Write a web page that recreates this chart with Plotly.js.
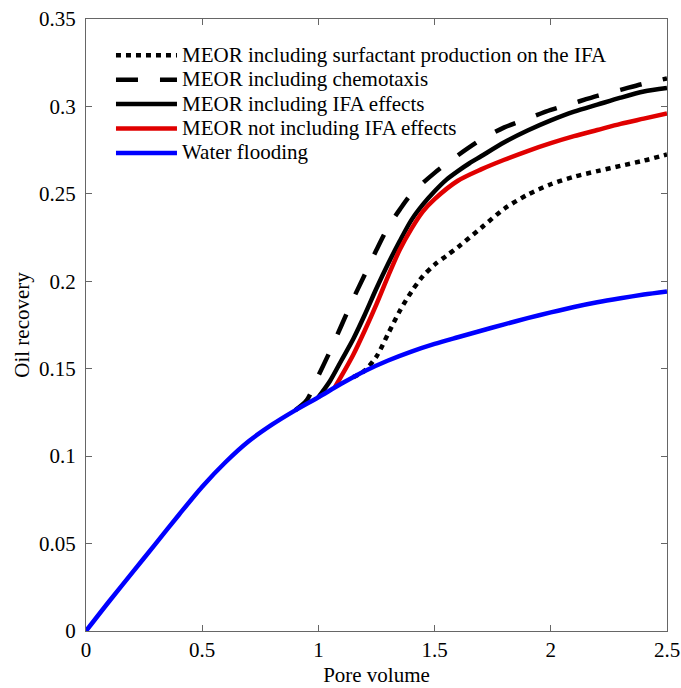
<!DOCTYPE html>
<html>
<head>
<meta charset="utf-8">
<script src="https://cdn.plot.ly/plotly-3.0.1.min.js"></script>
<style>html,body{margin:0;padding:0;background:#fff;}#chart{width:681px;height:688px;}</style>
</head>
<body>
<div id="chart"></div>
<script>
// Water flooding
const waterX = [0, 0.1, 0.2, 0.3, 0.4, 0.5, 0.6, 0.7, 0.8, 0.9, 1.0, 1.1, 1.2, 1.3, 1.4, 1.5, 1.6, 1.7, 1.8, 1.9, 2.0, 2.1, 2.2, 2.3, 2.4, 2.5];
const waterY = [0, 0.017, 0.0335, 0.050, 0.0665, 0.0825, 0.0965, 0.1085, 0.118, 0.1262, 0.1337, 0.1415, 0.1487, 0.1547, 0.1598, 0.1642, 0.168, 0.1717, 0.1754, 0.1789, 0.1822, 0.1853, 0.188, 0.1903, 0.1924, 0.1942];

// MEOR not including IFA effects (red)
const redX = [1.07, 1.1, 1.15, 1.2, 1.25, 1.3, 1.35, 1.4, 1.45, 1.5, 1.6, 1.7, 1.8, 1.9, 2.0, 2.1, 2.2, 2.3, 2.4, 2.5];
const redY = [0.1392, 0.146, 0.158, 0.172, 0.187, 0.203, 0.218, 0.230, 0.240, 0.247, 0.2575, 0.264, 0.2695, 0.2745, 0.279, 0.283, 0.2865, 0.290, 0.293, 0.296];

// MEOR including IFA effects (black solid)
const ifaX = [1.0, 1.05, 1.1, 1.15, 1.2, 1.25, 1.3, 1.35, 1.4, 1.45, 1.5, 1.55, 1.6, 1.65, 1.7, 1.8, 1.9, 2.0, 2.1, 2.2, 2.3, 2.4, 2.5];
const ifaY = [0.1337, 0.143, 0.155, 0.167, 0.181, 0.196, 0.210, 0.223, 0.235, 0.244, 0.2515, 0.258, 0.263, 0.2675, 0.2715, 0.2795, 0.2862, 0.292, 0.297, 0.301, 0.305, 0.3085, 0.3105];

// MEOR including chemotaxis (dashed)
const chemoX = [0.9, 0.95, 1.0, 1.05, 1.1, 1.15, 1.2, 1.25, 1.3, 1.35, 1.4, 1.5, 1.6, 1.7, 1.8, 1.9, 2.0, 2.1, 2.2, 2.3, 2.4, 2.5];
const chemoY = [0.1262, 0.132, 0.146, 0.160, 0.175, 0.190, 0.204, 0.218, 0.231, 0.241, 0.250, 0.262, 0.272, 0.281, 0.288, 0.293, 0.298, 0.302, 0.306, 0.3095, 0.313, 0.316];

// MEOR including surfactant production on the IFA (dotted)
const surfX = [1.15, 1.2, 1.25, 1.3, 1.35, 1.4, 1.45, 1.5, 1.55, 1.6, 1.7, 1.8, 1.9, 2.0, 2.1, 2.2, 2.3, 2.4, 2.5];
const surfY = [0.1452, 0.149, 0.157, 0.170, 0.183, 0.194, 0.203, 0.2095, 0.2145, 0.2195, 0.2305, 0.2415, 0.2495, 0.2555, 0.2598, 0.263, 0.266, 0.269, 0.2725];

const xTicks = [0, 0.5, 1, 1.5, 2, 2.5];
const xTickText = ['0', '0.5', '1', '1.5', '2', '2.5'];
const yTicks = [0, 0.05, 0.1, 0.15, 0.2, 0.25, 0.3, 0.35];
const yTickText = ['0', '0.05', '0.1', '0.15', '0.2', '0.25', '0.3', '0.35'];

const names = ['MEOR including surfactant production on the IFA', 'MEOR including chemotaxis', 'MEOR including IFA effects', 'MEOR not including IFA effects', 'Water flooding'];

const big = s => '<span style="font-size:21px">' + s + '</span>';

const traces = [
  {x: surfX, y: surfY, name: big(names[0]), mode: 'lines', line: {color: '#000', width: 4.5, dash: '5px,5px', shape: 'spline', smoothing: 0.8}},
  {x: chemoX, y: chemoY, name: big(names[1]), mode: 'lines', line: {color: '#000', width: 4.5, dash: '22px,22px', shape: 'spline', smoothing: 0.8}},
  {x: ifaX, y: ifaY, name: big(names[2]), mode: 'lines', line: {color: '#000', width: 4.5, shape: 'spline', smoothing: 0.8}},
  {x: redX, y: redY, name: big(names[3]), mode: 'lines', line: {color: '#e00000', width: 4.5, shape: 'spline', smoothing: 0.8}},
  {x: waterX, y: waterY, name: big(names[4]), mode: 'lines', line: {color: '#0000ff', width: 4.5, shape: 'spline', smoothing: 0.8}}
];

const font = {family: '"Liberation Serif", "Times New Roman", serif', size: 21, color: '#000'};

const layout = {
  width: 681, height: 688,
  margin: {l: 86, r: 14, t: 19, b: 57},
  paper_bgcolor: '#fff', plot_bgcolor: '#fff',
  font: font,
  showlegend: true,
  legend: {x: 0.043, y: 0.969, xanchor: 'left', yanchor: 'top', bgcolor: 'rgba(0,0,0,0)', borderwidth: 0,
           font: {family: font.family, size: 16.5, color: '#000'}, itemwidth: 61, tracegroupgap: 0},
  xaxis: {range: [0, 2.5], tickvals: xTicks, ticktext: xTickText, ticks: 'inside', ticklen: 6, tickcolor: '#666',
          showline: true, linecolor: '#666', linewidth: 1, mirror: 'ticks', showgrid: false, zeroline: false,
          title: {text: 'Pore volume', font: font, standoff: 6}, tickfont: font},
  yaxis: {range: [0, 0.35], tickvals: yTicks, ticktext: yTickText, ticks: 'inside', ticklen: 6, tickcolor: '#666',
          showline: true, linecolor: '#666', linewidth: 1, mirror: 'ticks', showgrid: false, zeroline: false,
          ticklabelstandoff: 5,
          title: {text: 'Oil recovery', font: font, standoff: 3}, tickfont: font}
};

Plotly.newPlot('chart', traces, layout, {displayModeBar: false, staticPlot: true});
</script>
</body>
</html>
